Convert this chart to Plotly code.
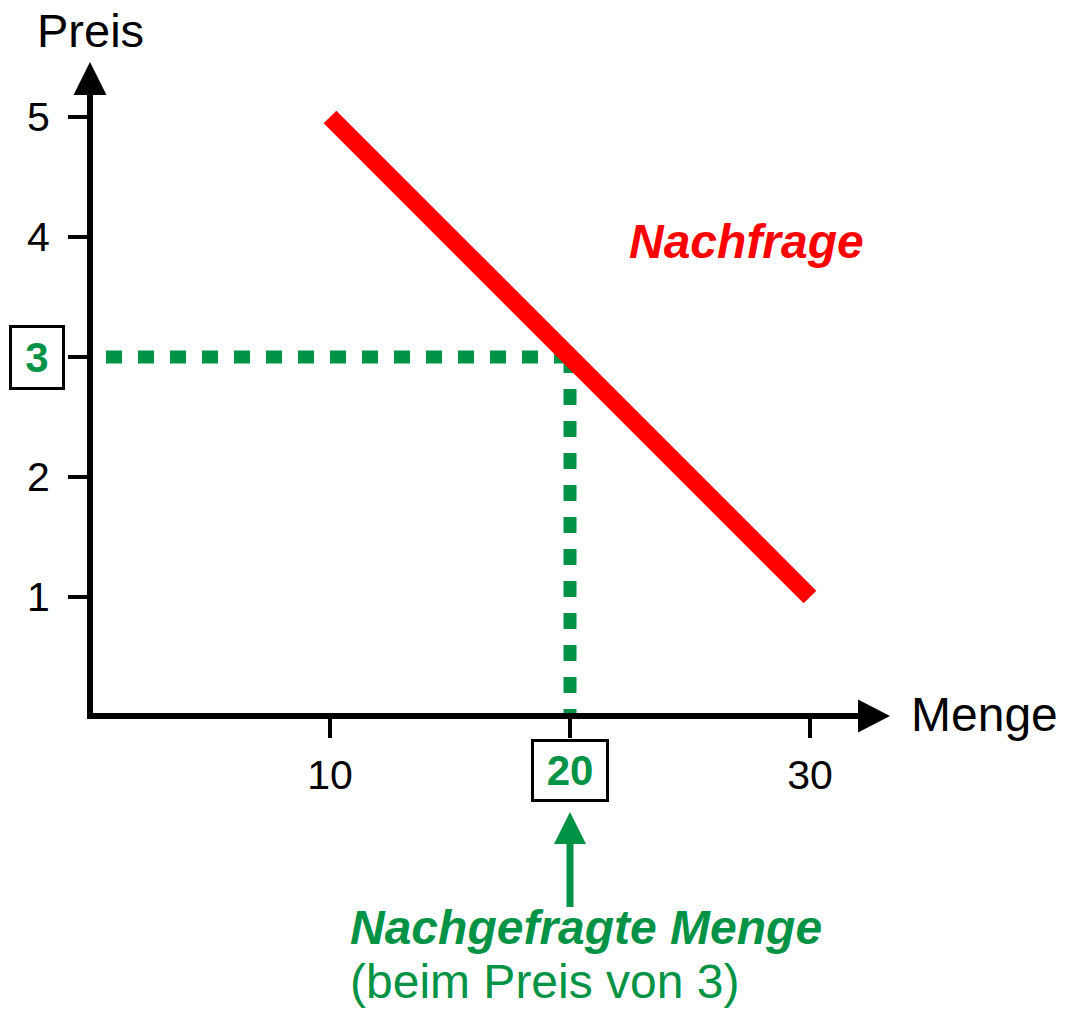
import plotly.graph_objects as go

# ---- data ----
demand_q = [10, 30]          # Menge
demand_p = [5, 1]            # Preis
price_level = 3
quantity_demanded = 20
x_tickvals = [10, 20, 30]
x_ticktext = ["10", "", "30"]
y_tickvals = [1, 2, 3, 4, 5]
y_ticktext = ["1", "2", "", "4", "5"]

RED = "#FF0000"
GREEN = "#009245"
FONT = "Liberation Sans, Arial, sans-serif"

W, H = 1065, 1012
L, R, T, B = 93, 858, 95, 713     # plot area in pixels
X0PX, XPU = 90, 24                # pixel of x=0, pixels per unit
Y0PX, YPU = 717, 120              # pixel of y=0, pixels per unit

xr = [(L - X0PX) / XPU, (R - X0PX) / XPU]
yr = [(Y0PX - B) / YPU, (Y0PX - T) / YPU]

fig = go.Figure()

# green dotted guide lines
fig.add_trace(go.Scatter(
    x=[quantity_demanded, 0], y=[price_level, price_level], mode="lines",
    line=dict(color=GREEN, width=13, dash="16px,16px"), hoverinfo="skip"))
fig.add_trace(go.Scatter(
    x=[quantity_demanded, quantity_demanded], y=[price_level, 0], mode="lines",
    line=dict(color=GREEN, width=13, dash="16px,16px"), hoverinfo="skip"))

# demand curve
fig.add_trace(go.Scatter(
    x=demand_q, y=demand_p, mode="lines",
    line=dict(color=RED, width=18), hoverinfo="skip"))

axis_common = dict(
    showgrid=False, zeroline=False, showline=True, linecolor="black", linewidth=6,
    ticks="outside", ticklen=19, tickwidth=4, tickcolor="black",
    tickfont=dict(family=FONT, size=41, color="black"),
)
fig.update_xaxes(range=xr, tickvals=x_tickvals, ticktext=x_ticktext,
                 ticklabelstandoff=2, **axis_common)
fig.update_yaxes(range=yr, tickvals=y_tickvals, ticktext=y_ticktext,
                 ticklabelstandoff=10, **axis_common)

shapes = [
    # y-axis arrow head
    dict(type="path", xref="paper", yref="paper", xsizemode="pixel", ysizemode="pixel",
         xanchor=0, yanchor=1, path="M -19.5,0 L 13.5,0 L -3,33 Z",
         fillcolor="black", line=dict(width=0)),
    # x-axis arrow head
    dict(type="path", xref="paper", yref="paper", xsizemode="pixel", ysizemode="pixel",
         xanchor=1, yanchor=0, path="M 0,-19.5 L 0,13.5 L 32,-3 Z",
         fillcolor="black", line=dict(width=0)),
    # green arrow shaft
    dict(type="line", xref="x", yref="paper", xsizemode="pixel", ysizemode="pixel",
         xanchor=quantity_demanded, yanchor=0, x0=0, x1=0, y0=-194, y1=-120,
         line=dict(color=GREEN, width=7)),
    # green arrow head
    dict(type="path", xref="x", yref="paper", xsizemode="pixel", ysizemode="pixel",
         xanchor=quantity_demanded, yanchor=0,
         path="M -16,-131 L 16,-131 L 0,-99 Z",
         fillcolor=GREEN, line=dict(width=0)),
]

annotations = [
    dict(text="Preis", xref="paper", yref="paper", x=0, y=1,
         xshift=X0PX - L, yshift=T - 30,
         showarrow=False, xanchor="center", yanchor="middle",
         font=dict(family=FONT, size=47, color="black")),
    dict(text="Menge", xref="paper", yref="paper", x=1, y=0,
         xshift=984.5 - R, yshift=B - 714,
         showarrow=False, xanchor="center", yanchor="middle",
         font=dict(family=FONT, size=48, color="black")),
    dict(text="<b><i>Nachfrage</i></b>", xref="x", yref="y", x=(746 - X0PX) / XPU,
         y=(Y0PX - 241) / YPU, showarrow=False, xanchor="center", yanchor="middle",
         font=dict(family=FONT, size=48, color=RED)),
    # boxed tick labels
    dict(text="<b>3</b>", xref="paper", yref="y", x=0, y=price_level, xshift=36.5 - L,
         showarrow=False, xanchor="center", yanchor="middle", width=50, height=59,
         borderpad=0, borderwidth=3, bordercolor="black", bgcolor="white",
         font=dict(family=FONT, size=42, color=GREEN)),
    dict(text="<b>20</b>", xref="x", yref="paper", x=quantity_demanded, y=0, yshift=B - 770,
         showarrow=False, xanchor="center", yanchor="middle", width=72, height=57,
         borderpad=0, borderwidth=3, bordercolor="black", bgcolor="white",
         font=dict(family=FONT, size=42, color=GREEN)),
    # explanation
    dict(text="<b><i>Nachgefragte Menge</i></b>", xref="x", yref="paper",
         x=quantity_demanded, y=0, xshift=348 - 570, yshift=B - 927,
         showarrow=False, xanchor="left", yanchor="middle",
         font=dict(family=FONT, size=48, color=GREEN)),
    dict(text="(beim Preis von 3)", xref="x", yref="paper",
         x=quantity_demanded, y=0, xshift=348 - 570, yshift=B - 981,
         showarrow=False, xanchor="left", yanchor="middle",
         font=dict(family=FONT, size=48, color=GREEN)),
]

fig.update_layout(
    width=W, height=H, showlegend=False,
    margin=dict(l=L, r=W - R, t=T, b=H - B, pad=0),
    plot_bgcolor="white", paper_bgcolor="white",
    shapes=shapes, annotations=annotations,
)

fig.write_html("out.html", config={"displayModeBar": False},
               post_script="document.body.style.margin='0';document.body.style.overflow='hidden';")
